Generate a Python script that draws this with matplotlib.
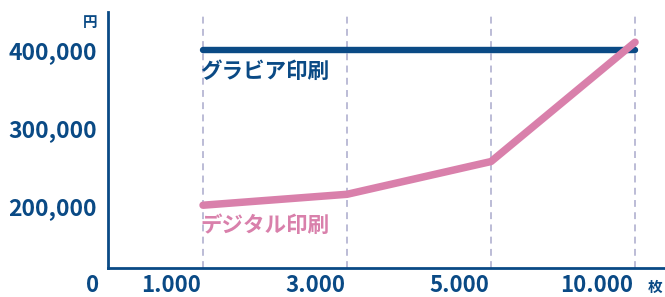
import matplotlib
matplotlib.use("Agg")
import matplotlib.pyplot as plt
import matplotlib.transforms as mtransforms

categories = ["1.000", "3.000", "5.000", "10.000"]
gravure = [400000, 400000, 400000, 400000]
digital = [201000, 215000, 257000, 410000]
ytick_vals = [200000, 300000, 400000]
ytick_labels = ["200,000", "300,000", "400,000"]
series_names = ["グラビア印刷", "デジタル印刷"]

NAVY = "#0a4a85"
PINK = "#d980ab"
GRID = "#a9a9cc"
FONT = ["Noto Sans CJK JP", "DejaVu Sans"]
plt.rcParams['font.family'] = FONT

W, H = 665, 297
fig = plt.figure(figsize=(W/100, H/100), dpi=100)
ax = fig.add_axes([108/W, (H-268)/H, (W-108)/W, (268-12)/H])

x = list(range(len(categories)))
for xi in x:
    ax.axvline(xi, color=GRID, lw=1.1, dashes=(4.5, 3.5), zorder=1)

ax.plot(x, gravure, color=NAVY, lw=4.6, solid_capstyle='round', zorder=3)
ax.plot(x, digital, color=PINK, lw=5.4, solid_capstyle='round', solid_joinstyle='round', zorder=4)

ax.set_xlim(-0.66, 3.208)
ax.set_ylim(120500, 448700)

ax.set_yticks(ytick_vals)
ax.set_yticklabels(ytick_labels)
ax.tick_params(axis='y', length=0, pad=8, labelsize=16.5, labelcolor=NAVY)
for t in ax.get_yticklabels():
    t.set_fontweight('bold')

ax.set_xticks(x)
ax.set_xticklabels(categories, ha='right')
ax.tick_params(axis='x', length=0, pad=4, labelsize=16, labelcolor=NAVY)
off = mtransforms.ScaledTranslation(-2/100, 0, fig.dpi_scale_trans)
for t in ax.get_xticklabels():
    t.set_fontweight('bold')
    t.set_transform(t.get_transform() + off)

for s in ['top', 'right']:
    ax.spines[s].set_visible(False)
for s in ['left', 'bottom']:
    ax.spines[s].set_color(NAVY)
    ax.spines[s].set_linewidth(2.0)

# origin "0", unit labels
fig.text(93/W, 1-286/H, "0", ha='center', va='center', fontsize=16, fontweight='bold', color=NAVY)
fig.text(90/W, 1-22/H, "円", ha='center', va='center', fontsize=10.5, fontweight='bold', color=NAVY)
fig.text(655/W, 1-287/H, "枚", ha='center', va='center', fontsize=10.5, fontweight='bold', color=NAVY)

# series labels
ax.text(-0.02, 372000, series_names[0], ha='left', va='center', fontsize=15.5, fontweight='bold', color=NAVY)
ax.text(-0.02, 175000, series_names[1], ha='left', va='center', fontsize=15.5, fontweight='bold', color=PINK)

fig.savefig("out.png", dpi=100)
